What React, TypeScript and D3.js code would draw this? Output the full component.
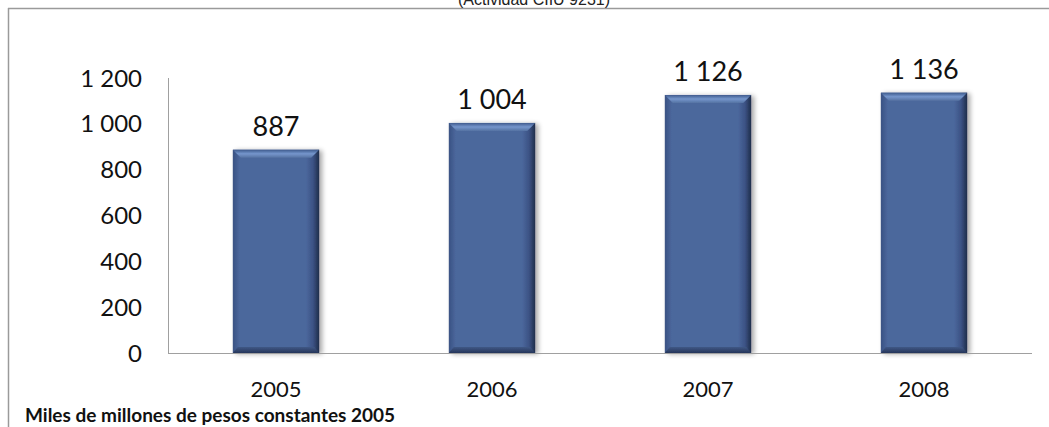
import React from "react";
import * as d3 from "d3";

const years = ["2005", "2006", "2007", "2008"];
const values = [887, 1004, 1126, 1136];
const valueLabels = ["887", "1 004", "1 126", "1 136"];
const yTicks = [0, 200, 400, 600, 800, 1000, 1200];
const yTickLabels = ["0", "200", "400", "600", "800", "1 000", "1 200"];
const title = "(Actividad CIIU 9231)";
const unitLabel = "Miles de millones de pesos constantes 2005";

const W = 1049;
const H = 427;
const left = 168;
const right = 1032;
const top = 78;
const bottom = 353;

export default function App() {
  const x = d3.scaleBand<string>().domain(years).range([left, right]).paddingInner(0.6).paddingOuter(0.3);
  const y = d3.scaleLinear().domain([0, 1200]).range([bottom, top]);
  const bw = x.bandwidth();
  const font = "Lato, 'Open Sans', sans-serif";

  return (
    <svg width={W} height={H} style={{ position: "absolute", left: 0, top: 0, background: "#fff" }}>
      <defs>
        <linearGradient id="body" x1="0" x2="1" y1="0" y2="0">
          <stop offset="0" stopColor="#3a5283" />
          <stop offset="0.08" stopColor="#4b679c" />
          <stop offset="0.85" stopColor="#4b679c" />
          <stop offset="0.93" stopColor="#3b5284" />
          <stop offset="1" stopColor="#1f2d4a" />
        </linearGradient>
        <linearGradient id="topbev" x1="0" x2="0" y1="0" y2="1">
          <stop offset="0" stopColor="#3f5a8d" />
          <stop offset="0.5" stopColor="#7596cc" />
          <stop offset="1" stopColor="#5673a3" />
        </linearGradient>
        <linearGradient id="botbev" x1="0" x2="0" y1="0" y2="1">
          <stop offset="0" stopColor="#405885" />
          <stop offset="1" stopColor="#26365a" />
        </linearGradient>
        <filter id="shadow" x="-20%" y="-10%" width="140%" height="120%">
          <feGaussianBlur in="SourceAlpha" stdDeviation="2.5" />
          <feOffset dx="3" dy="1" result="b" />
          <feComponentTransfer>
            <feFuncA type="linear" slope="0.35" />
          </feComponentTransfer>
          <feMerge>
            <feMergeNode />
            <feMergeNode in="SourceGraphic" />
          </feMerge>
        </filter>
      </defs>

      {/* frame */}
      <line x1={8} x2={W} y1={8.5} y2={8.5} stroke="#9a9a9a" strokeWidth={1.5} />
      <line x1={8.5} x2={8.5} y1={8} y2={H} stroke="#9a9a9a" strokeWidth={1.5} />

      <text x={534} y={5} textAnchor="middle" fontFamily="'Liberation Sans', Arial, sans-serif" fontSize={16} fill="#222">
        {title}
      </text>

      {/* axes */}
      <line x1={left + 0.5} x2={left + 0.5} y1={top} y2={bottom} stroke="#a0a0a0" strokeWidth={1} />
      {yTicks.map((t, i) => (
        <text key={t} x={142} y={y(t)} dy="0.36em" textAnchor="end" fontFamily={font} fontSize={24} fill="#111">
          {yTickLabels[i]}
        </text>
      ))}

      {/* bars */}
      {years.map((yr, i) => {
        const x0 = x(yr)!;
        const y0 = y(values[i]);
        const h = bottom - y0;
        const bev = 8;
        return (
          <g key={yr} filter="url(#shadow)">
            <rect x={x0} y={y0} width={bw} height={h} fill="url(#body)" />
            <polygon
              points={`${x0},${y0} ${x0 + bw},${y0} ${x0 + bw - bev},${y0 + bev} ${x0 + bev},${y0 + bev}`}
              fill="url(#topbev)"
            />
            <polygon
              points={`${x0},${bottom} ${x0 + bw},${bottom} ${x0 + bw - 5},${bottom - 6} ${x0 + 5},${bottom - 6}`}
              fill="url(#botbev)"
            />
          </g>
        );
      })}

      <line x1={left} x2={right} y1={bottom + 0.5} y2={bottom + 0.5} stroke="#a0a0a0" strokeWidth={1.2} />

      {/* value labels */}
      {years.map((yr, i) => (
        <text key={yr} x={x(yr)! + bw / 2} y={y(values[i]) - 14} textAnchor="middle" fontFamily={font} fontSize={27} fill="#111">
          {valueLabels[i]}
        </text>
      ))}

      {/* x labels */}
      {years.map((yr) => (
        <text key={yr} x={x(yr)! + bw / 2} y={389} dy="0.36em" textAnchor="middle" fontFamily={font} fontSize={22} fill="#111">
          {yr}
        </text>
      ))}

      <text x={25} y={422} fontFamily={font} fontWeight="bold" fontSize={19} fill="#111">
        {unitLabel}
      </text>
    </svg>
  );
}
